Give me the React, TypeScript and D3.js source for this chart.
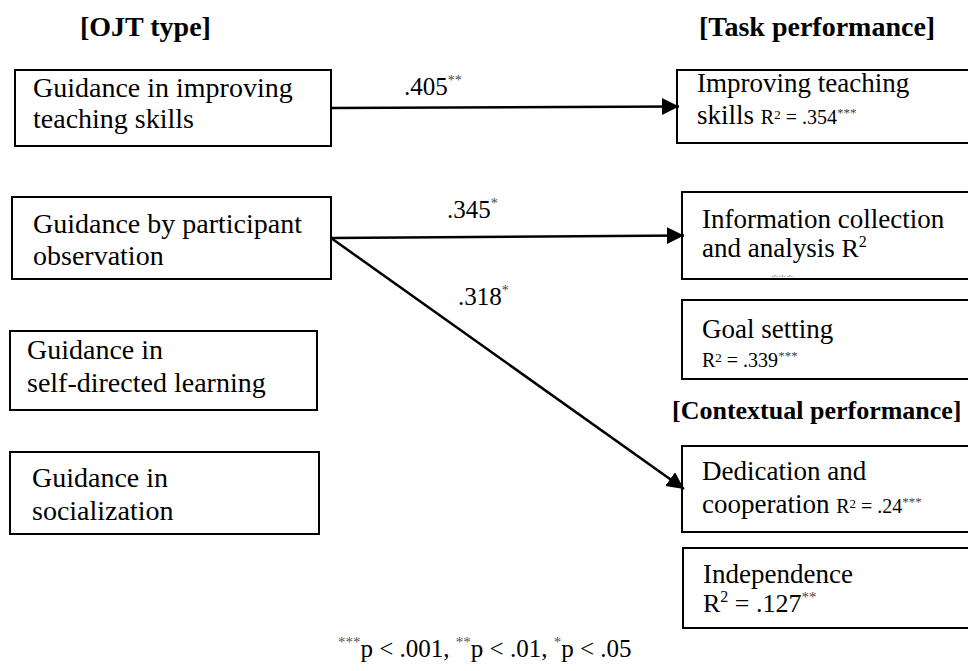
import React from "react";
import * as d3 from "d3";

// ---------- data ----------
const groupTitles = ["[OJT type]", "[Task performance]", "[Contextual performance]"];

const ojtTypes: string[][] = [
  ["Guidance in improving", "teaching skills"],
  ["Guidance by participant", "observation"],
  ["Guidance in", "self-directed learning"],
  ["Guidance in", "socialization"],
];

const outcomeNames: string[][] = [
  ["Improving teaching", "skills"],
  ["Information collection", "and analysis"],
  ["Goal setting"],
  ["Dedication and", "cooperation"],
  ["Independence"],
];
const outcomeR2 = [".354", "", ".339", ".24", ".127"];
const outcomeSig = ["***", "***", "***", "***", "**"];

const pathFrom = [0, 1, 1];
const pathTo = [0, 1, 3];
const pathBeta = [".405", ".345", ".318"];
const pathSig = ["**", "*", "*"];

const footP = ["p < .001, ", "p < .01, ", "p < .05"];
const footSig = ["***", "**", "*"];

// ---------- layout (positions / styles) ----------
const W = 968;
const H = 671;
const FONT = "'Liberation Serif', 'Times New Roman', Times, serif";

const leftBoxes = [
  { x: 15, y: 70, w: 316, h: 76, tx: 33, base: [97, 128] },
  { x: 12, y: 197, w: 319, h: 82, tx: 33, base: [233, 265] },
  { x: 10, y: 331, w: 307, h: 79, tx: 27, base: [359, 392] },
  { x: 10, y: 452, w: 309, h: 82, tx: 32, base: [487, 520] },
];
const rightBoxes = [
  { x: 677, y: 70, h: 73, base: [92, 124], inline: true, style: "small" },
  { x: 682, y: 192, h: 87, base: [228, 257], inline: true, style: "large" },
  { x: 682, y: 300, h: 79, base: [338, 367], inline: false, style: "small" },
  { x: 682, y: 446, h: 86, base: [480, 513], inline: true, style: "small" },
  { x: 683, y: 548, h: 80, base: [583, 612], inline: false, style: "large" },
];
const titlePos = [
  { x: 80, y: 36, size: 28 },
  { x: 699, y: 36, size: 28 },
  { x: 672, y: 419, size: 26 },
];
const labelPos = [
  { x: 404, y: 95 },
  { x: 447, y: 218 },
  { x: 458, y: 305 },
];

type Seg = { t: string; size: number; rise?: number; fill?: string };

function SegText({ x, y, segs }: { x: number; y: number; segs: Seg[] }) {
  let prev = 0;
  return (
    <text x={x} y={y} style={{ fontFamily: FONT }} fill="#000">
      {segs.map((s, i) => {
        const r = s.rise || 0;
        const dy = -(r - prev);
        prev = r;
        return (
          <tspan key={i} dy={dy} fontSize={s.size} fill={s.fill || "#000"} style={{ whiteSpace: "pre" }}>
            {s.t}
          </tspan>
        );
      })}
    </text>
  );
}

function r2Segs(style: string, val: string, sig: string): Seg[] {
  if (style === "small") {
    return [
      { t: "R", size: 20 },
      { t: "2", size: 13, rise: 5 },
      { t: " = " + val, size: 20 },
      { t: sig, size: 13, rise: 7, fill: "#444" },
    ];
  }
  const out: Seg[] = [{ t: "R", size: 26 }, { t: "2", size: 16, rise: 10 }];
  if (val) out.push({ t: " = " + val, size: 26 });
  if (val) out.push({ t: sig, size: 15, rise: 10, fill: "#444" });
  return out;
}

export default function App() {
  const line = d3.line<[number, number]>().x((d) => d[0]).y((d) => d[1]);

  const edges = pathFrom.map((f, i) => {
    const s = leftBoxes[f];
    const t = rightBoxes[pathTo[i]];
    const p0: [number, number] = [s.x + s.w, s.y + s.h / 2];
    const p1: [number, number] = [t.x + 2, t.y + t.h / 2];
    return { d: line([p0, p1]) || "", i };
  });

  return (
    <svg
      width={W}
      height={H}
      viewBox={`0 0 ${W} ${H}`}
      style={{ position: "absolute", left: 0, top: 0, background: "#fff" }}
    >
      <defs>
        <marker
          id="arrow"
          markerUnits="userSpaceOnUse"
          markerWidth={18}
          markerHeight={18}
          refX={17}
          refY={8.5}
          orient="auto"
        >
          <path d="M0,0 L17,8.5 L0,17 Z" fill="#000" />
        </marker>
        <clipPath id="clipR2">
          <rect x={rightBoxes[1].x} y={rightBoxes[1].y} width={400} height={rightBoxes[1].h - 2} />
        </clipPath>
      </defs>
      <rect x={0} y={0} width={W} height={H} fill="#fff" />

      {/* titles */}
      {groupTitles.map((t, i) => (
        <text
          key={t}
          x={titlePos[i].x}
          y={titlePos[i].y}
          style={{ fontFamily: FONT }}
          fontWeight="bold"
          fontSize={titlePos[i].size}
          fill="#000"
        >
          {t}
        </text>
      ))}

      {/* left boxes */}
      {ojtTypes.map((lines, i) => {
        const b = leftBoxes[i];
        return (
          <g key={"l" + i}>
            <rect x={b.x} y={b.y} width={b.w} height={b.h} fill="#fff" stroke="#000" strokeWidth={2} />
            {lines.map((ln, j) => (
              <text key={j} x={b.tx} y={b.base[j]} style={{ fontFamily: FONT }} fontSize={28} fill="#000">
                {ln}
              </text>
            ))}
          </g>
        );
      })}

      {/* right boxes */}
      {outcomeNames.map((lines, i) => {
        const b = rightBoxes[i];
        const tx = b.x + 20;
        const r2 = r2Segs(b.style, outcomeR2[i], outcomeSig[i]);
        const rendered: Seg[][] = lines.map((ln) => [{ t: ln, size: 27 }]);
        if (b.inline) {
          rendered[rendered.length - 1] = [{ t: lines[lines.length - 1] + " ", size: 27 }, ...r2];
        } else {
          rendered.push(r2);
        }
        return (
          <g key={"r" + i}>
            <rect x={b.x} y={b.y} width={W + 20 - b.x} height={b.h} fill="#fff" stroke="#000" strokeWidth={2} />
            {rendered.map((segs, j) => (
              <SegText key={j} x={tx} y={b.base[j]} segs={segs} />
            ))}
            {outcomeR2[i] === "" && (
              <g clipPath="url(#clipR2)">
                <text x={771} y={285} style={{ fontFamily: FONT }} fontSize={15} fill="#888">
                  {outcomeSig[i]}
                </text>
              </g>
            )}
          </g>
        );
      })}

      {/* edges */}
      {edges.map((e) => (
        <path key={"e" + e.i} d={e.d} stroke="#000" strokeWidth={2.5} fill="none" markerEnd="url(#arrow)" />
      ))}

      {/* edge labels */}
      {pathBeta.map((b, i) => (
        <SegText
          key={"b" + i}
          x={labelPos[i].x}
          y={labelPos[i].y}
          segs={[
            { t: b, size: 25 },
            { t: pathSig[i], size: 14, rise: 10, fill: "#444" },
          ]}
        />
      ))}

      {/* footnote */}
      <SegText
        x={338}
        y={657}
        segs={footP.flatMap((p, i) => [
          { t: footSig[i], size: 15, rise: 10, fill: "#555" },
          { t: p, size: 25 },
        ])}
      />
    </svg>
  );
}
